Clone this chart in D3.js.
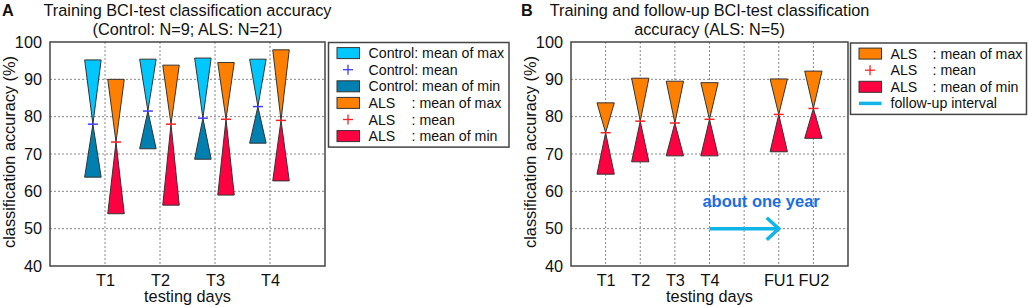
<!DOCTYPE html>
<html><head><meta charset="utf-8">
<script src="https://cdn.jsdelivr.net/npm/d3@7"></script>
<style>
body{margin:0;background:#fff;}
svg{font-family:"Liberation Sans",Arial,Helvetica,sans-serif;}
</style></head>
<body><svg id="c" width="1028" height="307"></svg>
<script>
// ---- Data: panel A ----
const daysA = ["T1","T2","T3","T4"];
const ctrlMax = [95.2, 95.4, 95.7, 95.4];
const ctrlMean = [78.0, 81.5, 79.6, 82.7];
const ctrlMin = [63.8, 71.4, 68.6, 72.9];
const alsMaxA = [90.0, 93.8, 94.5, 97.9];
const alsMeanA = [73.2, 78.0, 79.3, 79.0];
const alsMinA = [54.0, 56.3, 59.0, 62.8];
// ---- Data: panel B ----
const daysB = ["T1","T2","T3","T4","FU1","FU2"];
const posB = [1,2,3,4,6,7];
const alsMaxB = [83.7, 90.3, 89.5, 89.1, 90.1, 92.2];
const alsMeanB = [75.7, 78.8, 78.3, 79.3, 80.6, 82.2];
const alsMinB = [64.6, 67.9, 69.5, 69.5, 70.6, 74.2];
const followUp = [4, 6]; // arrow from T4 to FU1
const followUpLevel = 50;
const yTicks = [40,50,60,70,80,90,100];
const legendA = ["Control: mean of max","Control: mean","Control: mean of min","ALS","ALS","ALS"];
const legendATail = [null,null,null,": mean of max",": mean",": mean of min"];
const legendB = ["ALS","ALS","ALS","follow-up interval"];
const legendBTail = [": mean of max",": mean",": mean of min",null];

const C = {cmax:"#00c8ff", cmin:"#0080b0", amax:"#ff8000", amin:"#ff0040", cmean:"#3c3cff", amean:"#ff2020", arrow:"#10b4e8", txtblue:"#1a6ee6"};
const svg = d3.select("#c");
const FS = 16.3;

function panel(opts){
  const {x0,x1,xdom,ticks,tickPos,gridPos} = opts;
  const x = d3.scaleLinear().domain(xdom).range([x0,x1]);
  const y = d3.scaleLinear().domain([40,100]).range([266,42]);
  const g = svg.append("g");
  g.selectAll(".gy").data(yTicks.slice(1,-1)).join("line")
    .attr("x1",x0).attr("x2",x1).attr("y1",d=>y(d)).attr("y2",d=>y(d))
    .attr("stroke","#888").attr("stroke-dasharray","2,2").attr("stroke-width",1);
  g.selectAll(".gx").data(gridPos).join("line")
    .attr("x1",d=>x(d)).attr("x2",d=>x(d)).attr("y1",42).attr("y2",266)
    .attr("stroke","#888").attr("stroke-dasharray","2,2").attr("stroke-width",1);
  const ya = d3.axisLeft(y).tickValues(yTicks).tickSize(0).tickPadding(8);
  const yg = g.append("g").attr("transform",`translate(${x0},0)`).call(ya);
  yg.select(".domain").remove();
  yg.selectAll("text").attr("font-size",FS).attr("fill","#111").attr("font-family","Liberation Sans, Arial, sans-serif");
  const xa = d3.axisBottom(x).tickValues(tickPos).tickFormat((d,i)=>ticks[i]).tickSize(0).tickPadding(8);
  const xg = g.append("g").attr("transform",`translate(0,266)`).call(xa);
  xg.select(".domain").remove();
  xg.selectAll("text").attr("font-size",FS).attr("fill","#111").attr("font-family","Liberation Sans, Arial, sans-serif");
  g.append("text").attr("x",(x0+x1)/2).attr("y",302).attr("text-anchor","middle").attr("font-size",FS).attr("fill","#111").text("testing days");
  g.append("text").attr("transform",`translate(${x0-35},152) rotate(-90)`).attr("text-anchor","middle").attr("font-size",FS).attr("fill","#111").text("classification accuracy (%)");
  return {x,y,g};
}

function bowties(p, pos, maxs, means, mins, off, w, cmax, cmin, cmean){
  const {x,y,g} = p;
  const d = pos.map((v,i)=>({c:v+off, max:maxs[i], mean:means[i], min:mins[i]}));
  g.selectAll(null).data(d).join("polygon")
    .attr("points",e=>[[x(e.c-w/2),y(e.max)],[x(e.c+w/2),y(e.max)],[x(e.c),y(e.mean)]].join(" "))
    .attr("fill",cmax).attr("stroke","#333").attr("stroke-width",1);
  g.selectAll(null).data(d).join("polygon")
    .attr("points",e=>[[x(e.c-w/2),y(e.min)],[x(e.c+w/2),y(e.min)],[x(e.c),y(e.mean)]].join(" "))
    .attr("fill",cmin).attr("stroke","#333").attr("stroke-width",1);
  g.selectAll(null).data(d).join("line")
    .attr("x1",e=>x(e.c)-5).attr("x2",e=>x(e.c)+5).attr("y1",e=>y(e.mean)).attr("y2",e=>y(e.mean))
    .attr("stroke",cmean).attr("stroke-width",1.5);
}

function frame(p,x0,x1){
  p.g.append("rect").attr("x",x0).attr("y",42).attr("width",x1-x0).attr("height",224)
    .attr("fill","none").attr("stroke","#444").attr("stroke-width",1.5);
}

function legend(bx,by,bw,rows,names,tails,swatches,tailX){
  const g = svg.append("g");
  const rh = 16.6;
  g.append("rect").attr("x",bx).attr("y",by).attr("width",bw).attr("height",rows*rh+5)
    .attr("fill","#fff").attr("stroke","#444").attr("stroke-width",1.5);
  names.forEach((n,i)=>{
    const cy = by+10.6+i*rh;
    const s = swatches[i];
    const sx = bx+8.5;
    if(s.type==="rect"){
      g.append("rect").attr("x",sx).attr("y",cy-5.5).attr("width",22.5).attr("height",11).attr("fill",s.color).attr("stroke","#333").attr("stroke-width",1);
    } else if(s.type==="plus"){
      g.append("line").attr("x1",sx+6).attr("x2",sx+16).attr("y1",cy).attr("y2",cy).attr("stroke",s.color).attr("stroke-width",1.3);
      g.append("line").attr("x1",sx+11).attr("x2",sx+11).attr("y1",cy-5).attr("y2",cy+5).attr("stroke",s.color).attr("stroke-width",1.3);
    } else {
      g.append("line").attr("x1",sx).attr("x2",sx+22.5).attr("y1",cy).attr("y2",cy).attr("stroke",s.color).attr("stroke-width",3.5);
    }
    g.append("text").attr("x",bx+40).attr("y",cy+5).attr("font-size",14.2).attr("fill","#111").text(n);
    if(tails[i]) g.append("text").attr("x",tailX).attr("y",cy+5).attr("font-size",14.2).attr("fill","#111").text(tails[i]);
  });
}

// ---- Panel A ----
const pA = panel({x0:50,x1:325,xdom:[0,5],ticks:daysA,tickPos:[1,2,3,4],gridPos:[1,2,3,4]});
const posA = [1,2,3,4];
bowties(pA,posA,ctrlMax,ctrlMean,ctrlMin,-0.22,0.3,C.cmax,C.cmin,C.cmean);
bowties(pA,posA,alsMaxA,alsMeanA,alsMinA,0.2,0.3,C.amax,C.amin,C.amean);
frame(pA,50,325);
svg.append("text").attr("x",2).attr("y",16).attr("font-size",FS).attr("font-weight","bold").attr("fill","#111").text("A");
svg.append("text").attr("x",187.5).attr("y",16).attr("text-anchor","middle").attr("font-size",FS).attr("fill","#111").text("Training BCI-test classification accuracy");
svg.append("text").attr("x",187.5).attr("y",35).attr("text-anchor","middle").attr("font-size",FS).attr("fill","#111").text("(Control: N=9; ALS: N=21)");
legend(328.5,42.5,180.5,6,legendA,legendATail,
  [{type:"rect",color:C.cmax},{type:"plus",color:C.cmean},{type:"rect",color:C.cmin},{type:"rect",color:C.amax},{type:"plus",color:C.amean},{type:"rect",color:C.amin}],411.5);

// ---- Panel B ----
const pB = panel({x0:571,x1:848,xdom:[0,8],ticks:daysB,tickPos:posB,gridPos:[1,2,3,4,5,6,7]});
bowties(pB,posB,alsMaxB,alsMeanB,alsMinB,0,0.5,C.amax,C.amin,C.amean);
const ax0 = pB.x(followUp[0]), ax1 = pB.x(followUp[1]), ay = pB.y(followUpLevel);
pB.g.append("line").attr("x1",ax0).attr("x2",ax1-1).attr("y1",ay).attr("y2",ay).attr("stroke",C.arrow).attr("stroke-width",3.5);
pB.g.append("polyline").attr("points",[[ax1-12,ay-11],[ax1,ay],[ax1-12,ay+11]].join(" ")).attr("fill","none").attr("stroke",C.arrow).attr("stroke-width",3.5);
pB.g.append("text").attr("x",pB.x(5.49)).attr("y",pB.y(55.7)).attr("text-anchor","middle").attr("font-size",16.5).attr("font-weight","bold").attr("fill",C.txtblue).text("about one year");
frame(pB,571,848);
svg.append("text").attr("x",521).attr("y",16).attr("font-size",FS).attr("font-weight","bold").attr("fill","#111").text("B");
svg.append("text").attr("x",709.5).attr("y",16).attr("text-anchor","middle").attr("font-size",FS).attr("fill","#111").text("Training and follow-up BCI-test classification");
svg.append("text").attr("x",709.5).attr("y",35).attr("text-anchor","middle").attr("font-size",FS).attr("fill","#111").text("accuracy (ALS: N=5)");
legend(850.5,43,176,4,legendB,legendBTail,
  [{type:"rect",color:C.amax},{type:"plus",color:C.amean},{type:"rect",color:C.amin},{type:"line",color:C.arrow}],932.5);
</script></body></html>
